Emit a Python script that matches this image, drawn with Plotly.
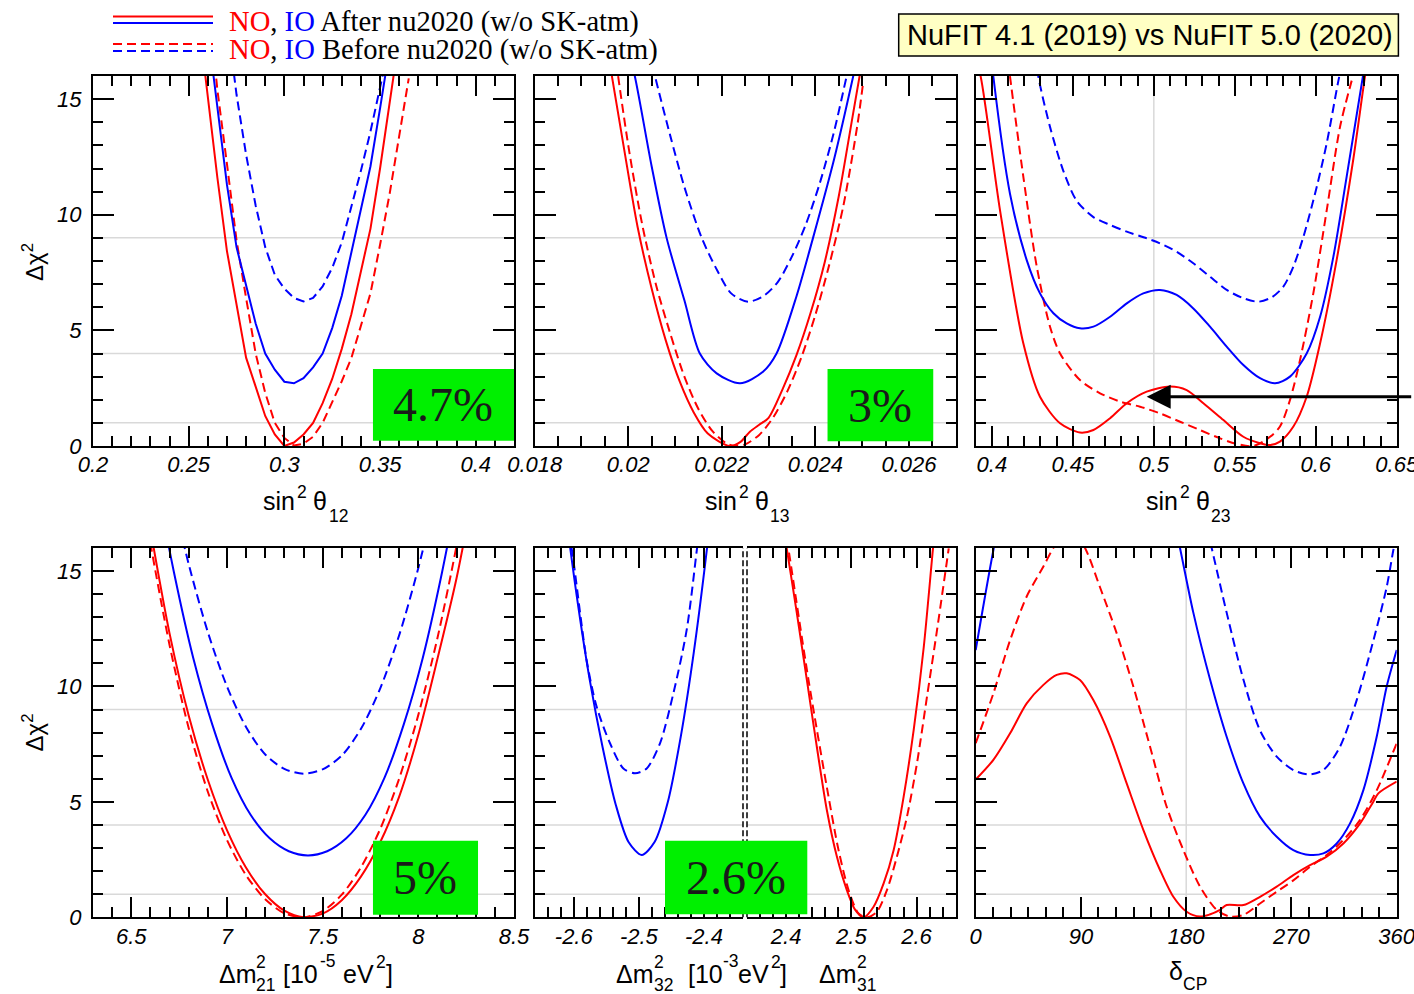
import plotly.graph_objects as go

W, H = 1414, 994

# ------------------------------------------------------------------
# Data (delta chi^2 profiles)
# ------------------------------------------------------------------
# Panel 1: sin^2 theta_12
s12_x_no_after = [0.255, 0.260, 0.265, 0.270, 0.275, 0.280, 0.285, 0.290, 0.295, 0.300, 0.305, 0.310,
                  0.315, 0.320, 0.325, 0.330, 0.335, 0.340, 0.345, 0.350, 0.355, 0.360, 0.365]
s12_y_no_after = [18.6, 15.1, 11.6, 8.43, 6.05, 3.82, 2.57, 1.3, 0.5, 0.0, 0.15, 0.5,
                  1.0, 1.85, 2.9, 4.2, 5.7, 7.6, 9.4, 12.0, 14.7, 17.5, 20.5]
s12_x_no_before = [0.260, 0.265, 0.270, 0.275, 0.280, 0.285, 0.290, 0.295, 0.300, 0.305, 0.310,
                   0.315, 0.320, 0.325, 0.330, 0.335, 0.340, 0.345, 0.350, 0.355, 0.360, 0.365]
s12_y_no_before = [19.5, 15.4, 12.2, 8.9, 6.4, 4.0, 2.3, 1.0, 0.35, 0.02, 0.1,
                   0.4, 1.0, 1.9, 2.8, 3.8, 5.2, 6.6, 8.7, 10.9, 13.4, 15.9]
s12_x_io_after = [0.260, 0.265, 0.270, 0.275, 0.280, 0.285, 0.290, 0.295, 0.300, 0.305,
                  0.310, 0.315, 0.320, 0.325, 0.330, 0.335, 0.340, 0.345, 0.350, 0.355]
s12_y_io_after = [18.0, 14.6, 11.3, 8.6, 6.9, 5.3, 4.0, 3.3, 2.78, 2.71,
                  2.93, 3.4, 4.0, 5.1, 6.5, 8.4, 10.2, 12.1, 14.6, 17.2]
s12_x_io_before = [0.270, 0.275, 0.280, 0.285, 0.290, 0.295, 0.300, 0.305, 0.310,
                   0.315, 0.320, 0.325, 0.330, 0.335, 0.340, 0.345, 0.350, 0.355]
s12_y_io_before = [18.5, 15.2, 12.6, 10.4, 8.6, 7.4, 6.8, 6.4, 6.25,
                   6.4, 6.9, 7.7, 8.8, 10.3, 11.9, 13.6, 15.5, 17.4]

# Panel 2: sin^2 theta_13
s13_x_no_after = [0.0196, 0.0199, 0.0202, 0.0205, 0.0208, 0.0211, 0.0214, 0.0217, 0.02217, 0.0224,
                  0.0226, 0.0228, 0.0230, 0.0233, 0.0236, 0.0239, 0.0242, 0.0245, 0.0248, 0.0251]
s13_y_no_after = [16.6, 12.98, 9.47, 6.81, 4.58, 2.79, 1.45, 0.54, 0.0, 0.18,
                  0.62, 0.92, 1.22, 2.46, 3.95, 5.77, 7.95, 10.8, 14.3, 17.8]
s13_x_no_before = [0.0197, 0.0200, 0.0203, 0.0206, 0.0209, 0.0212, 0.0215, 0.0218, 0.0221, 0.02231,
                   0.0225, 0.0228, 0.0231, 0.0234, 0.0237, 0.0240, 0.0243, 0.0246, 0.0249, 0.02502]
s13_y_no_before = [17.2, 13.0, 9.56, 6.92, 4.85, 3.0, 1.6, 0.64, 0.11, 0.0,
                   0.07, 0.48, 1.24, 2.36, 3.83, 5.67, 7.86, 10.4, 13.9, 15.7]
s13_x_io_after = [0.0199, 0.02014, 0.0205, 0.02082, 0.0212, 0.02153, 0.02189, 0.02239,
                  0.02288, 0.02317, 0.0236, 0.02395, 0.0244, 0.02481, 0.0250]
s13_y_io_after = [18.0, 16.0, 12.1, 9.0, 6.3, 4.0, 3.14, 2.71,
                  3.21, 4.0, 6.5, 9.0, 12.4, 16.0, 17.8]
s13_x_io_before = [0.0203, 0.02057, 0.0209, 0.0212, 0.02157, 0.0219, 0.0222, 0.02256,
                   0.0229, 0.0232, 0.0235, 0.0238, 0.0241, 0.0244, 0.02467, 0.0249]
s13_y_io_before = [18.2, 16.0, 13.4, 11.2, 9.0, 7.6, 6.6, 6.24,
                   6.5, 7.1, 8.2, 9.6, 11.4, 13.6, 16.0, 18.0]

# Panel 3: sin^2 theta_23
s23_x_no_after = [0.389, 0.3931, 0.4050, 0.4194, 0.4297, 0.4421, 0.4544, 0.4627, 0.4730, 0.4833,
                  0.4956, 0.5100, 0.5203, 0.5306, 0.5430, 0.5553, 0.5656, 0.5718, 0.5779, 0.5862,
                  0.5944, 0.6027, 0.6129, 0.6232, 0.6304, 0.634]
s23_y_no_after = [17.0, 15.97, 10.2, 4.44, 2.13, 0.98, 0.58, 0.69, 1.2, 1.85,
                  2.35, 2.57, 2.42, 1.85, 1.12, 0.40, 0.12, 0.04, 0.19, 0.84,
                  2.13, 4.44, 8.04, 12.4, 15.97, 17.5]
s23_x_no_before = [0.408, 0.4112, 0.4194, 0.4277, 0.4359, 0.4421, 0.4544, 0.4668, 0.4791, 0.4915,
                   0.5038, 0.5162, 0.5285, 0.5409, 0.5512, 0.5615, 0.5718, 0.5779, 0.5841, 0.5903,
                   0.5985, 0.6068, 0.6150, 0.6222]
s23_y_no_before = [17.8, 15.97, 11.65, 7.76, 5.16, 4.0, 2.85, 2.28, 1.92, 1.70,
                   1.41, 1.05, 0.69, 0.33, 0.09, 0.0, 0.4, 0.84, 1.99, 3.72,
                   6.6, 10.2, 13.8, 15.8]
s23_x_io_after = [0.398, 0.4009, 0.4112, 0.4215, 0.4297, 0.4380, 0.4462, 0.4544, 0.4627, 0.4730,
                  0.4833, 0.4935, 0.5038, 0.5141, 0.5244, 0.5347, 0.5450, 0.5553, 0.5656, 0.5749,
                  0.5841, 0.5944, 0.6027, 0.6109, 0.6191, 0.6294, 0.632]
s23_y_io_after = [18.0, 15.97, 10.9, 8.04, 6.6, 5.74, 5.30, 5.09, 5.16, 5.59,
                  6.17, 6.6, 6.75, 6.53, 5.95, 5.16, 4.3, 3.5, 2.93, 2.71,
                  3.0, 4.0, 5.59, 8.19, 11.65, 16.1, 17.2]
s23_x_io_before = [0.4260, 0.4287, 0.4359, 0.4441, 0.4524, 0.4627, 0.4730, 0.4833, 0.4956, 0.5038,
                   0.5141, 0.5244, 0.5347, 0.5450, 0.5553, 0.5646, 0.5728, 0.5800, 0.5862, 0.5924,
                   0.6006, 0.6068, 0.6140, 0.6165]
s23_y_io_before = [17.5, 15.97, 13.8, 11.9, 10.6, 9.9, 9.56, 9.27, 8.98, 8.76,
                   8.4, 7.9, 7.32, 6.75, 6.39, 6.24, 6.43, 6.89, 7.76, 9.05,
                   11.2, 13.1, 15.8, 16.6]

# Panel 4: Delta m^2_21 [1e-5 eV^2]
dm21_x_no = [6.5, 6.6, 6.7, 6.8, 6.9, 7.0, 7.1, 7.2, 7.3, 7.4, 7.5, 7.6, 7.7, 7.8, 7.9, 8.0, 8.1, 8.2, 8.3]
dm21_y_no_after = [21.6, 16.8, 12.3, 8.74, 5.96, 3.78, 2.15, 1.0, 0.29, 0.005,
                   0.16, 0.74, 1.76, 3.24, 5.23, 7.91, 11.2, 14.7, 19.0]
dm21_y_no_before = [21.0, 16.2, 11.8, 8.2, 5.44, 3.35, 1.82, 0.78, 0.175, 0.002,
                    0.27, 0.98, 2.16, 3.81, 6.01, 8.77, 12.1, 16.1, 20.7]
dm21_x_io_after = [6.6235, 6.7235, 6.8235, 6.9235, 7.0235, 7.1235, 7.2235, 7.3235, 7.4235,
                   7.5235, 7.6235, 7.7235, 7.8235, 7.9235, 8.0235, 8.1235, 8.2235]
dm21_y_io_after = [19.2, 14.93, 11.25, 8.35, 6.05, 4.44, 3.42, 2.86, 2.68,
                   2.86, 3.42, 4.44, 6.05, 8.35, 11.25, 14.93, 19.2]
dm21_x_io_before = [6.7026, 6.8026, 6.9026, 7.0026, 7.1026, 7.2026, 7.3026, 7.4026,
                    7.5026, 7.6026, 7.7026, 7.8026, 7.9026, 8.0026, 8.1026]
dm21_y_io_before = [18.7, 15.22, 12.29, 9.95, 8.2, 7.03, 6.42, 6.22,
                    6.42, 7.03, 8.2, 9.95, 12.29, 15.22, 18.7]

# Panel 5 (left half): Delta m^2_32 [1e-3 eV^2], IO
dm32_x_io_after = [-2.6156, -2.5956, -2.5756, -2.5556, -2.5356, -2.5156, -2.4956,
                   -2.4756, -2.4556, -2.4356, -2.4156, -2.3956, -2.3856]
dm32_y_io_after = [18.2, 13.96, 10.31, 7.36, 4.89, 3.25, 2.7,
                   3.27, 4.98, 7.83, 11.48, 15.92, 18.47]
dm32_x_io_before = [-2.615, -2.6032, -2.58, -2.5648, -2.5443, -2.5238, -2.5059, -2.4879, -2.4675,
                    -2.447, -2.4265, -2.411, -2.405]
dm32_y_io_before = [17.8, 15.98, 11.1, 9.12, 7.54, 6.45, 6.24, 6.45, 7.54,
                    9.7, 12.45, 15.9, 17.3]
# Panel 5 (right half): Delta m^2_31 [1e-3 eV^2], NO
dm31_x_no_after = [2.395, 2.4009, 2.4163, 2.4317, 2.447, 2.4624, 2.4778, 2.4931, 2.5059, 2.5187,
                   2.5341, 2.5495, 2.5649, 2.5802, 2.5956, 2.611, 2.6252, 2.63]
dm31_y_no_after = [17.0, 15.98, 13.2, 10.3, 7.4, 4.65, 2.63, 1.18, 0.32, 0.0,
                   0.46, 1.47, 2.92, 5.23, 8.12, 11.7, 15.98, 17.3]
dm31_x_no_before = [2.398, 2.4035, 2.4342, 2.465, 2.4803, 2.4957, 2.511, 2.5238, 2.5392, 2.5546,
                    2.5699, 2.5853, 2.6006, 2.616, 2.6314, 2.6493]
dm31_y_no_before = [17.0, 15.98, 10.3, 5.23, 2.92, 1.18, 0.17, 0.0, 0.24, 1.18,
                    2.63, 4.36, 6.67, 9.56, 12.45, 15.98]

# Panel 6: delta_CP [deg]
dcp_x_no_after = [0, 15.1, 29.4, 43.6, 57.9, 69.3, 77.8, 89.2, 100.6, 114.9,
                  129.1, 143.4, 157.6, 169.0, 180.4, 191.8, 200.0, 208.9, 214.6, 228.9,
                  243.1, 257.4, 271.6, 285.9, 300.1, 314.4, 328.7, 340.0, 344.3, 360]
dcp_y_no_after = [5.97, 6.82, 7.97, 9.27, 10.07, 10.5, 10.57, 10.28, 9.41, 7.83,
                  5.8, 3.78, 2.05, 0.89, 0.24, 0.03, 0.12, 0.32, 0.53, 0.53,
                  0.89, 1.33, 1.83, 2.26, 2.63, 3.2, 4.07, 5.01, 5.37, 5.88]
dcp_x_no_before = [0, 15.1, 29.4, 43.6, 57.9, 66.4, 80, 93.5, 106.3, 120.6,
                   134.8, 149.1, 163.3, 177.6, 191.8, 206.1, 217.5, 228.9, 243.1, 257.4,
                   271.6, 285.9, 300.1, 314.4, 328.7, 342.9, 360]
dcp_y_no_before = [7.54, 9.7, 12.0, 13.9, 15.2, 16.0, 17.0, 16.0, 14.3, 12.3,
                   10.0, 7.39, 4.79, 2.91, 1.33, 0.32, 0.03, 0.1, 0.6, 1.11,
                   1.6, 2.19, 2.7, 3.35, 4.22, 5.5, 7.54]
dcp_x_io_after = [0, 15.1, 25, 60, 100, 140, 165, 174.7, 186.1, 200.4, 214.6, 228.9,
                  243.1, 257.4, 271.6, 285.9, 297.3, 308.7, 320.1, 331.5, 342.9, 351.4, 360]
dcp_y_io_after = [11.58, 15.9, 18.3, 23, 24, 21, 18.3, 16, 13.2, 10.3, 7.82, 5.8,
                  4.36, 3.49, 2.91, 2.7, 2.77, 3.2, 4.07, 5.51, 7.82, 9.99, 11.58]
dcp_x_io_before = [190, 201.8, 214.6, 228.9, 243.1, 257.4, 271.6, 284.5, 297.3, 311.5,
                   325.8, 340.1, 351.4, 357.1, 360]
dcp_y_io_before = [18.6, 16, 13.2, 10.3, 8.1, 6.96, 6.38, 6.19, 6.38, 7.39,
                   9.41, 12.0, 14.3, 15.9, 16.6]

# Tick labels
s12_ticks = [0.2, 0.25, 0.3, 0.35, 0.4]
s12_ticktext = ["0.2", "0.25", "0.3", "0.35", "0.4"]
s13_ticks = [0.018, 0.020, 0.022, 0.024, 0.026]
s13_ticktext = ["0.018", "0.02", "0.022", "0.024", "0.026"]
s23_ticks = [0.4, 0.45, 0.5, 0.55, 0.6, 0.65]
s23_ticktext = ["0.4", "0.45", "0.5", "0.55", "0.6", "0.65"]
dm21_ticks = [6.5, 7.0, 7.5, 8.0, 8.5]
dm21_ticktext = ["6.5", "7", "7.5", "8", "8.5"]
dm32_ticks = [-2.6, -2.5, -2.4]
dm32_ticktext = ["-2.6", "-2.5", "-2.4"]
dm31_ticks = [2.4, 2.5, 2.6]
dm31_ticktext = ["2.4", "2.5", "2.6"]
dcp_ticks = [0, 90, 180, 270, 360]
dcp_ticktext = ["0", "90", "180", "270", "360"]
chi_ticks = [0, 5, 10, 15]
chi_ticktext = ["0", "5", "10", "15"]

# Box labels
pct_labels = ["4.7%", "3%", "5%", "2.6%"]

# ------------------------------------------------------------------
RED, BLUE = "#ff0000", "#0000ff"
DASH = "9px,5px"
TICKFONT = dict(family="Liberation Sans, Arial", size=22, color="black", style="italic")
SANS = "Liberation Sans, Arial"
SERIF = "Liberation Serif, Times New Roman"
GREEN = "#00f000"
GRID = "#d9d9d9"


def px(xp):
    return xp / W


def py(yp):
    return 1 - yp / H


fig = go.Figure()


def add_curve(x, y, color, dash, xa, ya, shape="spline"):
    line = dict(color=color, width=2, dash=dash, shape=shape)
    if shape == "spline":
        line["smoothing"] = 0.8
    fig.add_trace(go.Scatter(x=x, y=y, mode="lines", line=line, xaxis=xa, yaxis=ya,
                             showlegend=False, hoverinfo="skip"))


# panel 1
add_curve(s12_x_io_before, s12_y_io_before, BLUE, DASH, "x", "y", "linear")
add_curve(s12_x_no_before, s12_y_no_before, RED, DASH, "x", "y", "linear")
add_curve(s12_x_io_after, s12_y_io_after, BLUE, "solid", "x", "y", "linear")
add_curve(s12_x_no_after, s12_y_no_after, RED, "solid", "x", "y", "linear")
# panel 2
add_curve(s13_x_io_before, s13_y_io_before, BLUE, DASH, "x2", "y2")
add_curve(s13_x_no_before, s13_y_no_before, RED, DASH, "x2", "y2")
add_curve(s13_x_io_after, s13_y_io_after, BLUE, "solid", "x2", "y2")
add_curve(s13_x_no_after, s13_y_no_after, RED, "solid", "x2", "y2")
# panel 3
add_curve(s23_x_io_before, s23_y_io_before, BLUE, DASH, "x3", "y3")
add_curve(s23_x_no_before, s23_y_no_before, RED, DASH, "x3", "y3")
add_curve(s23_x_io_after, s23_y_io_after, BLUE, "solid", "x3", "y3")
add_curve(s23_x_no_after, s23_y_no_after, RED, "solid", "x3", "y3")
# panel 4
add_curve(dm21_x_io_before, dm21_y_io_before, BLUE, DASH, "x4", "y4")
add_curve(dm21_x_no, dm21_y_no_before, RED, DASH, "x4", "y4")
add_curve(dm21_x_io_after, dm21_y_io_after, BLUE, "solid", "x4", "y4")
add_curve(dm21_x_no, dm21_y_no_after, RED, "solid", "x4", "y4")
# panel 5
add_curve(dm32_x_io_before, dm32_y_io_before, BLUE, DASH, "x5", "y5")
add_curve(dm32_x_io_after, dm32_y_io_after, BLUE, "solid", "x5", "y5")
add_curve(dm31_x_no_before, dm31_y_no_before, RED, DASH, "x6", "y6")
add_curve(dm31_x_no_after, dm31_y_no_after, RED, "solid", "x6", "y6")
# panel 6
add_curve(dcp_x_io_before, dcp_y_io_before, BLUE, DASH, "x7", "y7")
add_curve(dcp_x_no_before, dcp_y_no_before, RED, DASH, "x7", "y7")
add_curve(dcp_x_io_after, dcp_y_io_after, BLUE, "solid", "x7", "y7")
add_curve(dcp_x_no_after, dcp_y_no_after, RED, "solid", "x7", "y7")

# ------------------------------------------------------------------
TOP = [py(446), py(76)]
BOT = [py(917.3), py(548)]
C1 = [px(93), px(514)]
C2 = [px(534.7), px(955.7)]
C3 = [px(975.7), px(1396.7)]
C5L = [px(534.7), px(743)]
C5R = [px(747), px(955.7)]


def xax(domain, rng, tv, tt, mdt, anchor):
    return dict(domain=domain, range=rng, anchor=anchor, showline=True, linecolor="black",
                linewidth=2, mirror="ticks", ticks="inside", ticklen=20, tickwidth=1.5,
                tickcolor="black", tickmode="array", tickvals=tv, ticktext=tt,
                minor=dict(ticks="inside", ticklen=10, tickwidth=1.5, tickcolor="black",
                           tickmode="linear", tick0=0, dtick=mdt, showgrid=False),
                showgrid=False, zeroline=False, tickfont=TICKFONT, ticklabelstandoff=-2,
                ticklabeloverflow="allow", automargin=False)


def yax(domain, anchor, labels, side="left", mirror="ticks"):
    return dict(domain=domain, range=[0, 16], anchor=anchor, side=side, showline=True,
                linecolor="black", linewidth=2, mirror=mirror, ticks="inside", ticklen=21,
                tickwidth=1.5, tickcolor="black", tickmode="array", tickvals=chi_ticks,
                ticktext=chi_ticktext, showticklabels=labels,
                minor=dict(ticks="inside", ticklen=10, tickwidth=1.5, tickcolor="black",
                           tickmode="linear", tick0=0, dtick=1, showgrid=False),
                showgrid=False, zeroline=False, tickfont=TICKFONT, ticklabelstandoff=5,
                ticklabeloverflow="allow", automargin=False)


layout = dict(
    width=W, height=H, margin=dict(l=0, r=0, t=0, b=0, autoexpand=False),
    paper_bgcolor="white", plot_bgcolor="white", showlegend=False,
    xaxis=xax(C1, [0.2, 0.42], s12_ticks, s12_ticktext, 0.01, "y"),
    yaxis=yax(TOP, "x", True),
    xaxis2=xax(C2, [0.018, 0.027], s13_ticks, s13_ticktext, 0.0005, "y2"),
    yaxis2=yax(TOP, "x2", False),
    xaxis3=xax(C3, [0.39, 0.65], s23_ticks, s23_ticktext, 0.01, "y3"),
    yaxis3=yax(TOP, "x3", False),
    xaxis4=xax(C1, [6.3, 8.5], dm21_ticks, dm21_ticktext, 0.1, "y4"),
    yaxis4=yax(BOT, "x4", True),
    xaxis5=xax(C5L, [-2.66, -2.34], dm32_ticks, dm32_ticktext, 0.02, "y5"),
    yaxis5=yax(BOT, "x5", False, "left", False),
    xaxis6=xax(C5R, [2.34, 2.66], dm31_ticks, dm31_ticktext, 0.02, "y6"),
    yaxis6=yax(BOT, "x6", False, "right", False),
    xaxis7=xax(C3, [0, 360], dcp_ticks, dcp_ticktext, 15, "y7"),
    yaxis7=yax(BOT, "x7", False),
)
fig.update_layout(**layout)

shapes = []
# light grid lines at delta chi^2 = 1, 4, 9
for xa, ya in [("x", "y"), ("x2", "y2"), ("x3", "y3"), ("x4", "y4"), ("x5", "y5"), ("x6", "y6"), ("x7", "y7")]:
    for v in [1, 4, 9]:
        shapes.append(dict(type="line", xref=xa + " domain", yref=ya, x0=0, x1=1, y0=v, y1=v,
                           line=dict(color=GRID, width=1.5), layer="below"))
shapes.append(dict(type="line", xref="x3", yref="y3 domain", x0=0.5, x1=0.5, y0=0, y1=1,
                   line=dict(color=GRID, width=1.5), layer="below"))
shapes.append(dict(type="line", xref="x7", yref="y7 domain", x0=180, x1=180, y0=0, y1=1,
                   line=dict(color=GRID, width=1.5), layer="below"))
# double dashed separator in the mass-splitting panel
for xp in [743, 747]:
    shapes.append(dict(type="line", xref="paper", yref="paper", x0=px(xp), x1=px(xp),
                       y0=py(917.3), y1=py(548), line=dict(color="black", width=1.5, dash="6px,3px")))
# green percentage boxes
boxes = [
    dict(xref="x", yref="y", x0=0.3463, x1=0.42, y0=0.23, y1=3.33),
    dict(xref="x2", yref="y2", x0=0.02426, x1=0.02652, y0=0.2, y1=3.33),
    dict(xref="x4", yref="y4", x0=7.763, x1=8.312, y0=0.11, y1=3.32),
    dict(xref="paper", yref="paper", x0=px(665), x1=px(807.3), y0=py(914.3), y1=py(840.7)),
]
for b in boxes:
    shapes.append(dict(type="rect", fillcolor=GREEN, line=dict(width=0), layer="above", **b))
# title box
shapes.append(dict(type="rect", xref="paper", yref="paper", x0=px(898.7), x1=px(1398.4),
                   y0=py(56), y1=py(14), fillcolor="#ffffc4", line=dict(color="black", width=1.5)))
# legend line samples
for (yp, col, dsh) in [(16.5, RED, "solid"), (23, BLUE, "solid"), (44, RED, DASH), (51, BLUE, DASH)]:
    shapes.append(dict(type="line", xref="paper", yref="paper", x0=px(113), x1=px(213),
                       y0=py(yp), y1=py(yp), line=dict(color=col, width=2, dash=dsh)))
fig.update_layout(shapes=shapes)

ann = []


def piece(text, xp, base, size, family=SANS, color="black"):
    # left-anchored text whose baseline sits at pixel row `base`
    ann.append(dict(text=text, xref="paper", yref="paper", x=px(xp), y=py(base - 0.3465 * size),
                    xanchor="left", yanchor="middle", showarrow=False,
                    font=dict(family=family, size=size, color=color)))


# x-axis titles, top row
for cx, sub in [(303.5, "12"), (745.2, "13"), (1186.2, "23")]:
    piece("sin", cx - 42.5, 510, 25)
    piece("2", cx - 8.5, 498, 17.5)
    piece("θ", cx + 7.5, 510, 25)
    piece(sub, cx + 23.0, 522, 17.5)
# bottom row
piece("Δm", 217, 983, 25)
piece("2", 253.5, 968, 17.5)
piece("21", 253.5, 991.5, 17.5)
piece("[10", 281, 983, 25)
piece("-5", 317.5, 967, 17.5)
piece("eV", 341, 983, 25)
piece("2", 373.5, 968, 17.5)
piece("]", 384, 983, 25)

piece("Δm", 614, 983, 25)
piece("2", 652.2, 968, 17.5)
piece("32", 652.2, 991.5, 17.5)
piece("[10", 686, 983, 25)
piece("-3", 721, 967, 17.5)
piece("eV", 736, 983, 25)
piece("2", 768.5, 968, 17.5)
piece("]", 777.5, 983, 25)
piece("Δm", 817, 983, 25)
piece("2", 854.5, 968, 17.5)
piece("31", 854.5, 991.5, 17.5)

piece("δ", 1167, 980, 25)
piece("CP", 1180.5, 990.5, 17.5)

# y-axis titles
for cy in [262.5, 733]:
    ann.append(dict(text="Δχ<sup>2</sup>", xref="paper", yref="paper", x=px(32.5), y=py(cy),
                    xanchor="center", yanchor="middle", textangle=-90, showarrow=False,
                    font=dict(family=SANS, size=24, color="black")))

# legend texts
leg1 = ('<span style="color:#ff0000">NO</span>, <span style="color:#0000ff">IO</span> '
        'After nu2020 (w/o SK-atm)')
leg2 = ('<span style="color:#ff0000">NO</span>, <span style="color:#0000ff">IO</span> '
        'Before nu2020 (w/o SK-atm)')
piece(leg1, 227, 32 + 0.3465 * 28.6 - 0.3375 * 28.6, 28.6, SERIF)
piece(leg2, 227, 60 + 0.3465 * 28.6 - 0.3375 * 28.6, 28.6, SERIF)

# title
ann.append(dict(text="NuFIT 4.1 (2019) vs NuFIT 5.0 (2020)", xref="paper", yref="paper",
                x=px(1150), y=py(45.5 - 0.3465 * 29), xanchor="center", yanchor="middle",
                showarrow=False, font=dict(family=SANS, size=29, color="black")))

# percentage labels
for b, lab in zip(boxes, pct_labels):
    ann.append(dict(text=lab, xref=b["xref"], yref=b["yref"], x=(b["x0"] + b["x1"]) / 2,
                    y=(b["y0"] + b["y1"]) / 2, xanchor="center", yanchor="middle",
                    showarrow=False, font=dict(family=SERIF, size=48, color="#1a1a1a")))

# arrow in the theta_23 panel
ann.append(dict(text="", xref="x3", yref="y3", x=0.4956, y=2.13, ax=266, ay=0,
                showarrow=True, arrowhead=2, arrowsize=1.5, arrowwidth=3.2, arrowcolor="black"))

fig.update_layout(annotations=ann)
fig.write_html("out.html")
